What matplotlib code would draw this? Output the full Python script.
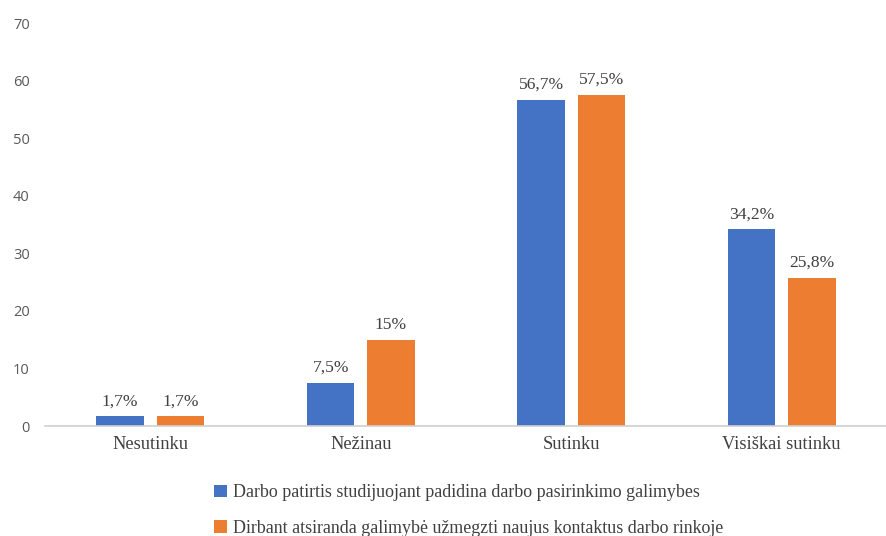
import matplotlib.pyplot as plt
import numpy as np

# duomenys
kategorijos = ['Nesutinku', 'Nežinau', 'Sutinku', 'Visiškai sutinku']
serija1 = [1.7, 7.5, 56.7, 34.2]
serija2 = [1.7, 15, 57.5, 25.8]
etiketes1 = ['1,7%', '7,5%', '56,7%', '34,2%']
etiketes2 = ['1,7%', '15%', '57,5%', '25,8%']
pavadinimai = ['Darbo patirtis studijuojant padidina darbo pasirinkimo galimybes',
               'Dirbant atsiranda galimybė užmegzti naujus kontaktus darbo rinkoje']
spalvos = ['#4472C4', '#ED7D31']

fig = plt.figure(figsize=(8.87, 5.36), dpi=100)
ax = fig.add_axes([45 / 887, 0.205, 1 - 45 / 887, 0.752])

x = np.arange(len(kategorijos))
plot = 0.225
poslinkis = 0.143
b1 = ax.bar(x - poslinkis, serija1, plot, color=spalvos[0], label=pavadinimai[0])
b2 = ax.bar(x + poslinkis, serija2, plot, color=spalvos[1], label=pavadinimai[1])

for bars, etk in [(b1, etiketes1), (b2, etiketes2)]:
    for b, t in zip(bars, etk):
        ax.annotate(t, (b.get_x() + b.get_width() / 2, b.get_height()),
                    xytext=(0, 5), textcoords='offset points', ha='center', va='bottom',
                    fontsize=12.6, family='Liberation Serif', color='#404040')

ax.set_xlim(-0.5, 3.5)
ax.set_ylim(0, 70)
ax.set_yticks(range(0, 71, 10))
ax.set_xticks(x)
ax.set_xticklabels(kategorijos, family='Liberation Serif', fontsize=13.2, color='#404040')
for lab in ax.get_yticklabels():
    lab.set_family('Open Sans')
    lab.set_fontsize(10.5)
    lab.set_color('#595959')

for s in ['top', 'right', 'left']:
    ax.spines[s].set_visible(False)
ax.spines['bottom'].set_color('#D0D0D0')
ax.spines['bottom'].set_linewidth(1.2)
ax.tick_params(axis='both', length=0)
ax.tick_params(axis='x', pad=7)
ax.tick_params(axis='y', pad=11)

fig.legend(loc='upper left', bbox_to_anchor=(198 / 887, 1 - 468 / 536), frameon=False,
           prop={'family': 'Liberation Serif', 'size': 12.9}, handlelength=0.7, handleheight=0.7,
           handletextpad=0.35, labelspacing=1.05, labelcolor='#404040')

fig.savefig('out.png', dpi=100)
